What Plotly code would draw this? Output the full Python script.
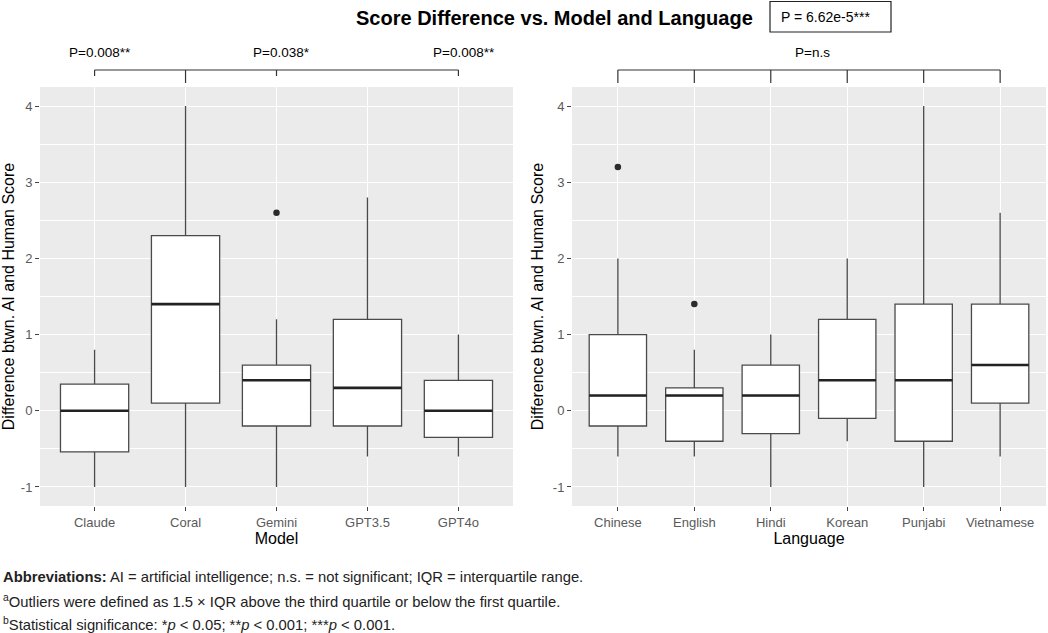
import plotly.graph_objects as go

W, H = 1048, 633

# ---- data ----
models = ["Claude", "Coral", "Gemini", "GPT3.5", "GPT4o"]
m_low = [-1.0, -1.0, -1.0, -0.6, -0.6]
m_q1 = [-0.54, 0.1, -0.2, -0.2, -0.35]
m_med = [0.0, 1.4, 0.4, 0.3, 0.0]
m_q3 = [0.35, 2.3, 0.6, 1.2, 0.4]
m_high = [0.8, 4.0, 1.2, 2.8, 1.0]
m_out_cat = ["Gemini"]
m_out_val = [2.6]

languages = ["Chinese", "English", "Hindi", "Korean", "Punjabi", "Vietnamese"]
l_low = [-0.6, -0.6, -1.0, -0.4, -1.0, -0.6]
l_q1 = [-0.2, -0.4, -0.3, -0.1, -0.4, 0.1]
l_med = [0.2, 0.2, 0.2, 0.4, 0.4, 0.6]
l_q3 = [1.0, 0.3, 0.6, 1.2, 1.4, 1.4]
l_high = [2.0, 0.8, 1.0, 2.0, 4.0, 2.6]
l_out_cat = ["Chinese", "English"]
l_out_val = [3.2, 1.4]

# significance brackets
m_ref = "Coral"
m_cmp = ["Claude", "Gemini", "GPT4o"]
m_pvals = ["P=0.008**", "P=0.038*", "P=0.008**"]
l_pval = "P=n.s"
overall_p = "P = 6.62e-5***"

yticks = [-1, 0, 1, 2, 3, 4]

BOXW = 0.75
LINE = "#4a4a4a"
DARK = "#222222"


def px_x(p):
    return p / W


def px_y(p):
    return 1 - p / H


fig = go.Figure()


def add_panel(cats, low, q1, med, q3, high, out_cat, out_val, xa, ya):
    pos = list(range(len(cats)))
    fig.add_trace(go.Box(
        x=pos, q1=q1, median=med, q3=q3, lowerfence=low, upperfence=high,
        width=BOXW, whiskerwidth=0, boxpoints=False,
        fillcolor="white", line=dict(color=LINE, width=1.3),
        xaxis=xa, yaxis=ya, showlegend=False, hoverinfo="skip"))
    for p, m in zip(pos, med):
        fig.add_trace(go.Scatter(
            x=[p - BOXW / 2, p + BOXW / 2], y=[m, m], mode="lines",
            line=dict(color=DARK, width=2.6), xaxis=xa, yaxis=ya,
            showlegend=False, hoverinfo="skip"))
    fig.add_trace(go.Scatter(
        x=[cats.index(c) for c in out_cat], y=out_val, mode="markers",
        marker=dict(color="#2b2b2b", size=6.5), xaxis=xa, yaxis=ya,
        showlegend=False, hoverinfo="skip"))


add_panel(models, m_low, m_q1, m_med, m_q3, m_high, m_out_cat, m_out_val, "x", "y")
add_panel(languages, l_low, l_q1, l_med, l_q3, l_high, l_out_cat, l_out_val, "x2", "y2")

ydom = [px_y(506), px_y(87)]
FAM = "Arial, Liberation Sans, sans-serif"
tickfont = dict(family=FAM, size=13, color="#5a5a5a")
titlefont = dict(family=FAM, size=16, color="black")

common_x = dict(showgrid=True, gridcolor="white", gridwidth=1.3, zeroline=False,
                ticks="outside", ticklen=4, tickcolor="#444", tickfont=tickfont,
                showline=False, fixedrange=True)
common_y = dict(range=[-1.25, 4.25], tickvals=yticks, ticktext=[str(v) for v in yticks],
                showgrid=True, gridcolor="white", gridwidth=1.3, zeroline=False,
                ticks="outside", ticklen=4, tickcolor="#444", tickfont=tickfont,
                minor=dict(tickvals=[-0.5, 0.5, 1.5, 2.5, 3.5], showgrid=True,
                           gridcolor="white", gridwidth=0.7),
                domain=ydom, showline=False)

fig.update_layout(
    width=W, height=H, margin=dict(l=0, r=0, t=0, b=0),
    paper_bgcolor="white", plot_bgcolor="#EBEBEB",
    font=dict(family=FAM),
    xaxis=dict(domain=[px_x(40), px_x(513)], range=[-0.6, len(models) - 0.4],
               tickvals=list(range(len(models))), ticktext=models,
               title=dict(text="Model", font=titlefont, standoff=3), anchor="y", **common_x),
    yaxis=dict(anchor="x", title=dict(text="Difference btwn. AI and Human Score",
                                      font=titlefont, standoff=5), **common_y),
    xaxis2=dict(domain=[px_x(572), px_x(1046)], range=[-0.6, len(languages) - 0.4],
                tickvals=list(range(len(languages))), ticktext=languages,
                title=dict(text="Language", font=titlefont, standoff=3), anchor="y2", **common_x),
    yaxis2=dict(anchor="x2", title=dict(text="Difference btwn. AI and Human Score",
                                        font=titlefont, standoff=5), **common_y),
)

shapes = []
annotations = []
bline = dict(color="#333", width=1.2)
yb = px_y(70)
ys = px_y(76)
yl = px_y(83)

# left brackets
li = [models.index(c) for c in m_cmp] + [models.index(m_ref)]
shapes.append(dict(type="line", xref="x", yref="paper", x0=min(li), x1=max(li), y0=yb, y1=yb, line=bline))
for c, t in zip(m_cmp, m_pvals):
    i = models.index(c)
    shapes.append(dict(type="line", xref="x", yref="paper", x0=i, x1=i, y0=yb, y1=ys, line=bline))
    annotations.append(dict(x=i + 0.06, y=px_y(53), xref="x", yref="paper", text=t, showarrow=False,
                            font=dict(size=13.5, color="black"), yanchor="middle"))
ir = models.index(m_ref)
shapes.append(dict(type="line", xref="x", yref="paper", x0=ir, x1=ir, y0=yb, y1=yl, line=bline))

# right brackets
n = len(languages)
shapes.append(dict(type="line", xref="x2", yref="paper", x0=0, x1=n - 1, y0=yb, y1=yb, line=bline))
for i in range(n):
    shapes.append(dict(type="line", xref="x2", yref="paper", x0=i, x1=i, y0=yb, y1=yl, line=bline))
annotations.append(dict(x=(n - 1) / 2 + 0.04, y=px_y(53), xref="x2", yref="paper", text=l_pval,
                        showarrow=False, font=dict(size=13.5, color="black"), yanchor="middle"))

# title
annotations.append(dict(x=px_x(554), y=px_y(18), xref="paper", yref="paper",
                        text="<b>Score Difference vs. Model and Language</b>", showarrow=False,
                        font=dict(size=20, color="black"), yanchor="middle"))
# overall p box
shapes.append(dict(type="rect", xref="paper", yref="paper", x0=px_x(770), x1=px_x(891),
                   y0=px_y(32), y1=px_y(1.5), line=dict(color="#222", width=1.2), fillcolor="white"))
annotations.append(dict(x=px_x(779), y=px_y(17), xref="paper", yref="paper", text=overall_p,
                        showarrow=False, xanchor="left", yanchor="middle",
                        font=dict(size=14, color="black")))

# footnotes
foot = dict(family=FAM, size=14.8, color="#222")
notes = [
    "<b>Abbreviations:</b> AI = artificial intelligence; n.s. = not significant; IQR = interquartile range.",
    "<sup>a</sup>Outliers were defined as 1.5 × IQR above the third quartile or below the first quartile.",
    "<sup>b</sup>Statistical significance: *<i>p</i> < 0.05; **<i>p</i> < 0.001; ***<i>p</i> < 0.001.",
]
for t, yy in zip(notes, [577, 601, 624]):
    annotations.append(dict(x=px_x(1), y=px_y(yy), xref="paper", yref="paper", text=t,
                            showarrow=False, xanchor="left", yanchor="middle", font=foot))

fig.update_layout(shapes=shapes, annotations=annotations)
fig.write_html("out.html")
